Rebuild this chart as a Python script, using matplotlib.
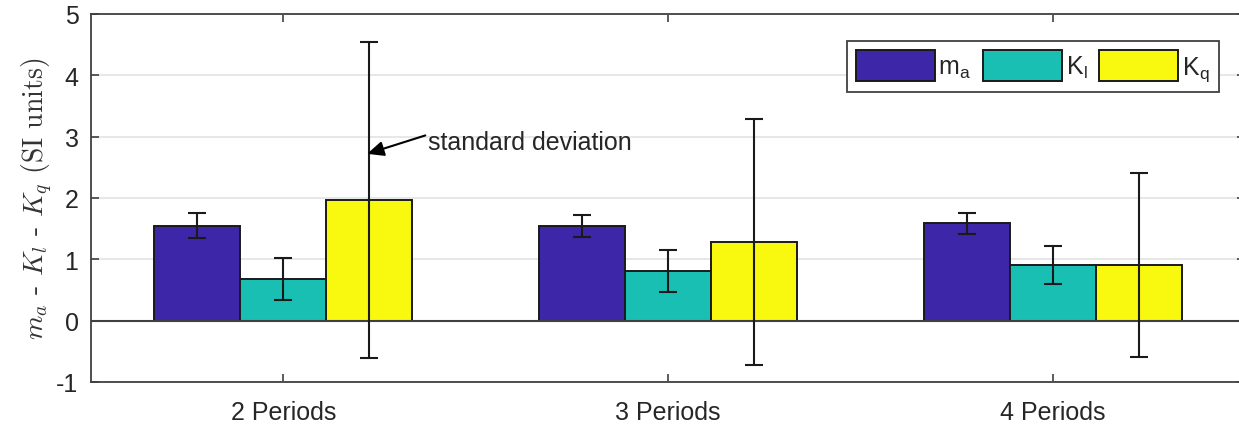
import numpy as np
import matplotlib
matplotlib.use("Agg")
import matplotlib.pyplot as plt

plt.rcParams['font.family'] = ['Liberation Sans', 'DejaVu Sans']
plt.rcParams['mathtext.fontset'] = 'cm'
plt.rcParams['axes.unicode_minus'] = False

# data
groups = ['2 Periods', '3 Periods', '4 Periods']
series = ['m_a', 'K_l', 'K_q']
legend_labels = [r'm$_\mathregular{a}$', r'K$_\mathregular{l}$', r'K$_\mathregular{q}$']
means = {
    'm_a': [1.55, 1.55, 1.59],
    'K_l': [0.68, 0.81, 0.90],
    'K_q': [1.97, 1.28, 0.90],
}
stds = {
    'm_a': [0.20, 0.18, 0.17],
    'K_l': [0.34, 0.34, 0.31],
    'K_q': [2.58, 2.00, 1.50],
}
colors = ['#3D26A8', '#1ABFB4', '#F8F90F']

text_col = '#262626'
fs = 18

fig = plt.figure(figsize=(12.39, 4.27), dpi=100)
ax = fig.add_axes([91 / 1239, 1 - 383 / 427, (1245 - 91) / 1239, (383 - 15) / 427])

x = np.arange(1, len(groups) + 1)
width = 0.2234
for i, (s, c, lab) in enumerate(zip(series, colors, legend_labels)):
    pos = x + (i - 1) * width
    ax.bar(pos, means[s], width, color=c, edgecolor='#1a1a1a', linewidth=1.4,
           label=lab, zorder=3)
    ax.errorbar(pos, means[s], yerr=stds[s], fmt='none', ecolor='#1a1a1a',
                elinewidth=1.5, capsize=6.5, capthick=1.5, zorder=4)

ax.axhline(0, color='#404040', linewidth=1.5, zorder=3.5)

ax.set_xlim(0.5, 3.5)
ax.set_ylim(-1, 5)
ax.set_yticks(range(-1, 6))
ax.set_xticks(x)
ax.set_xticklabels(groups)
ax.yaxis.grid(True, color='#E3E3E3', linewidth=1.2, zorder=0)
ax.set_axisbelow(True)

for sp in ax.spines.values():
    sp.set_color('#404040')
    sp.set_linewidth(1.3)
ax.tick_params(axis='both', direction='in', colors='#404040', labelcolor=text_col,
               labelsize=fs, top=True, right=True, length=6, width=1.2)
ax.tick_params(axis='x', pad=13)
ax.tick_params(axis='y', pad=9)

ax.set_ylabel(r'$m_a$ - $K_l$ - $K_q$ (SI units)', family='cmr10',
              fontsize=20, color='#333333', labelpad=1)

# annotation for the error bars
ax.annotate('', xy=(1.218, 2.72), xytext=(1.369, 3.02),
            arrowprops=dict(arrowstyle='-|>,head_length=1.0,head_width=0.45',
                            color='black', lw=1.5, shrinkA=0, shrinkB=0), zorder=6)
ax.text(1.377, 2.906, 'standard deviation', fontsize=fs, color=text_col,
        ha='left', va='center', zorder=6)

leg = ax.legend(loc='upper right', bbox_to_anchor=((1219 - 91) / (1245 - 91), 1 - (42 - 15) / 368),
                ncol=3, fontsize=fs, frameon=True, fancybox=False, framealpha=1,
                handlelength=3.15, handleheight=1.55, handletextpad=0.15,
                columnspacing=0.45, borderpad=0.35, borderaxespad=0)
leg.get_frame().set_edgecolor('#404040')
leg.get_frame().set_linewidth(1.3)
for t in leg.get_texts():
    t.set_color(text_col)

fig.savefig('out.png', dpi=100)
